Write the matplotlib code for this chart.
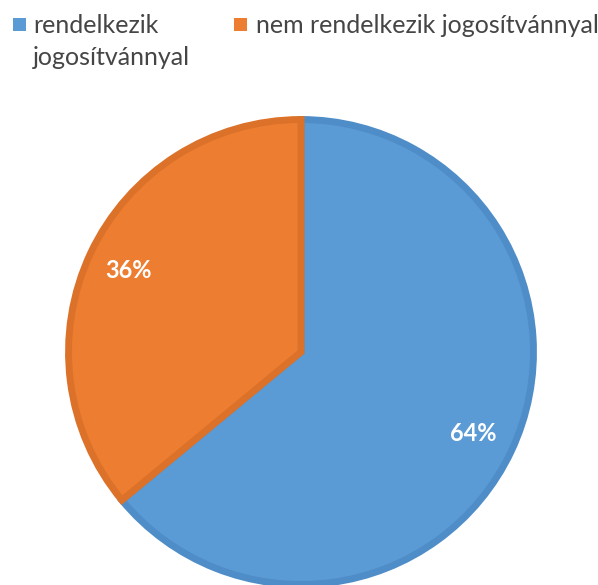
import matplotlib.pyplot as plt
from matplotlib.patches import Rectangle

# Driving licence share
labels = ['rendelkezik', 'nem rendelkezik jogosítvánnyal']
label_second_line = 'jogosítvánnyal'
shares = [64, 36]
fills = ['#5B9BD5', '#ED7D31']
edges = ['#4F8DC8', '#DC7229']

W, H = 598, 585
fig = plt.figure(figsize=(W / 100, H / 100), dpi=100)

# pie axes: centre (301, 352) px, radius 236 px
cx, cy, r = 301, 352, 236
ax = fig.add_axes([(cx - r) / W, (H - cy - r) / H, 2 * r / W, 2 * r / H])
wedges, texts, autotexts = ax.pie(
    shares, colors=fills, startangle=90, counterclock=False, radius=0.985,
    autopct='%d%%', pctdistance=0.82,
    wedgeprops=dict(linewidth=5, edgecolor='white'),
    textprops=dict(color='white', fontsize=17, fontweight='bold', family='Lato'))
for w, ec in zip(wedges, edges):
    w.set_edgecolor(ec)
    w.set_joinstyle('miter')
ax.set_xlim(-1, 1)
ax.set_ylim(-1, 1)
ax.axis('off')

# legend drawn by hand
def px(x, y):
    return x / W, 1 - y / H

def legend_item(x, y, color):
    fig.patches.append(Rectangle(px(x, y + 13), 13 / W, 13 / H,
                                 transform=fig.transFigure, facecolor=color,
                                 edgecolor='none'))

def legend_text(x, y, text):
    fig.text(*px(x, y), text, fontsize=18, family='Lato', color='#454545',
             va='baseline', ha='left')

legend_item(13, 18, fills[0])
legend_text(33, 33, labels[0])
legend_text(33, 65, label_second_line)
legend_item(234, 18, fills[1])
legend_text(256, 33, labels[1])

fig.savefig('out.png', dpi=100)
